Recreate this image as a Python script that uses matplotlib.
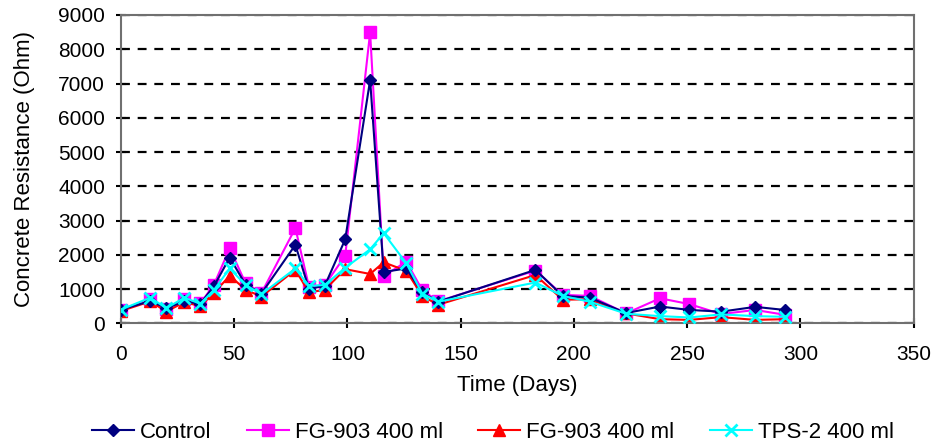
import numpy as np
from matplotlib import pyplot as plt

plt.rcParams['font.family'] = ['Liberation Sans', 'DejaVu Sans']

days = [0, 13, 20, 28, 35, 41, 48, 55, 62, 77, 83, 90, 99, 110, 116, 126,
        133, 140, 183, 195, 207, 223, 238, 251, 265, 280, 293]

control = [400, 650, 440, 640, 570, 1080, 1920, 1130, 870, 2290, 1000, 1100,
           2450, 7100, 1500, 1600, 900, 630, 1560, 800, 750, 300, 490, 390,
           340, 480, 390]
fg903_a = [400, 700, 430, 700, 580, 1120, 2190, 1170, 880, 2780, 1070, 1120,
           1970, 8490, 1380, 1800, 970, 640, 1540, 830, 800, 290, 730, 560,
           270, 390, 250]
fg903_b = [360, 640, 340, 620, 500, 880, 1390, 980, 780, 1560, 900, 980,
           1580, 1440, 1780, 1530, 800, 540, 1410, 690, 700, 290, 120, 100,
           180, 100, 120]
tps2 = [400, 750, 440, 750, 570, 970, 1600, 1120, 850, 1600, 1090, 1120,
        1620, 2160, 2630, 1750, 870, 630, 1190, 800, 630, 280, 210, 170,
        260, 210, 190]

labels = ['Control', 'FG-903 400 ml', 'FG-903 400 ml', 'TPS-2 400 ml']

fig = plt.figure(figsize=(9.35, 4.46), dpi=100)
ax = fig.add_axes([0.1294, 0.2751, 0.9772 - 0.1294, 0.9664 - 0.2751])

ax.plot(days, control, color='#000080', marker='D', ms=6, lw=1.5, label=labels[0], zorder=3)
ax.plot(days, fg903_a, color='#ff00ff', marker='s', ms=8, lw=1.5, label=labels[1], zorder=2)
ax.plot(days, fg903_b, color='#ff0000', marker='^', ms=8, lw=1.5, label=labels[2], zorder=2.5)
ax.plot(days, tps2, color='#00ffff', marker='x', ms=8, mew=2, lw=1.5, label=labels[3], zorder=4)

ax.set_xlim(0, 350)
ax.set_ylim(0, 9000)
ax.set_xticks(np.arange(0, 351, 50))
ax.set_yticks(np.arange(0, 9001, 1000))
ax.yaxis.grid(True, color='black', ls=(0, (4, 3.5)), lw=1.6)
ax.set_axisbelow(True)
for s in ax.spines.values():
    s.set_color('#707070')
    s.set_linewidth(1.5)
ax.tick_params(direction='inout', length=7, width=1.5, color='black', labelsize=15)
ax.tick_params(axis='x', pad=12)
ax.tick_params(axis='y', pad=8)
ax.set_xlabel('Time (Days)', fontsize=16, labelpad=8)
ax.set_ylabel('Concrete Resistance (Ohm)', fontsize=16, labelpad=17)

fig.legend(loc='center', bbox_to_anchor=(0.527, 0.03), ncol=4, frameon=False,
           fontsize=16, handlelength=1.9, columnspacing=1.6, handletextpad=0.25)

fig.savefig('out.png', dpi=100)
